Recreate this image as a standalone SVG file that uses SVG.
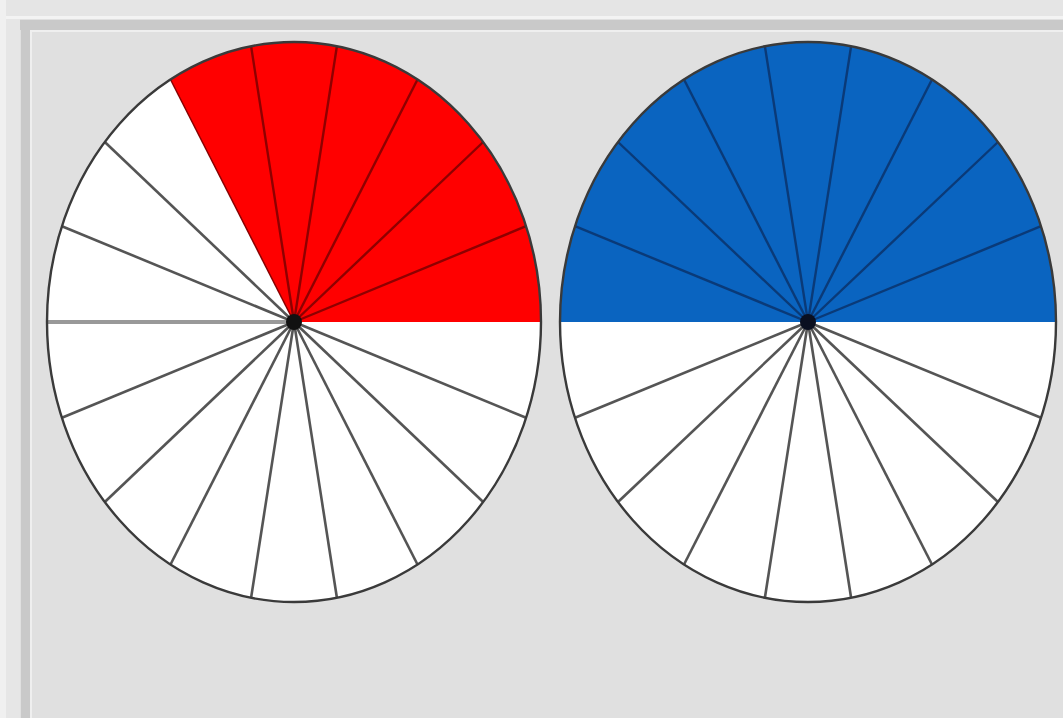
<svg xmlns="http://www.w3.org/2000/svg" width="1063" height="718" viewBox="0 0 1063 718">
<style>
.wl{stroke:#555555;stroke-width:2.6;fill:none}
.rl{stroke:#8e0000;stroke-width:2.4;fill:none}
.bl{stroke:#0a3a78;stroke-width:2.4;fill:none}
.out{fill:none;stroke:#3a3a3a;stroke-width:2.4}
</style>
<rect x="0" y="0" width="1063" height="718" fill="#e0e0e0"/>
<g id="frame">
<rect x="0" y="0" width="1063" height="17" fill="#e5e5e5"/>
<rect x="0" y="0" width="6" height="718" fill="#f0f0f0"/>
<rect x="6" y="17" width="14" height="701" fill="#e6e6e6"/>
<rect x="6" y="16" width="1057" height="3" fill="#f3f3f3"/>
<rect x="20" y="20" width="1043" height="10" fill="#c9c9c9"/>
<rect x="21" y="20" width="9" height="698" fill="#c9c9c9"/>
<rect x="30" y="30" width="1033" height="2" fill="#efefef"/>
<rect x="30" y="30" width="2" height="688" fill="#efefef"/>
</g>
<g id="left-pie">
<ellipse cx="294" cy="322" rx="247" ry="280" fill="#ffffff"/>
<path d="M294,322 L541,322 A247,280 0 0 0 170.5,79.5 Z" fill="#ff0000"/>
<g class="rl">
<line x1="294" y1="322" x2="526.1" y2="226.2"/>
<line x1="294" y1="322" x2="483.2" y2="142"/>
<line x1="294" y1="322" x2="417.5" y2="79.5"/>
<line x1="294" y1="322" x2="336.9" y2="46.3"/>
<line x1="294" y1="322" x2="251.1" y2="46.3"/>
</g>
<g class="wl">
<line x1="294" y1="322" x2="104.8" y2="142"/>
<line x1="294" y1="322" x2="61.9" y2="226.2"/>
<line x1="294" y1="322" x2="47" y2="322" stroke="#999" stroke-width="4"/>
<line x1="294" y1="322" x2="61.9" y2="417.8"/>
<line x1="294" y1="322" x2="104.8" y2="502"/>
<line x1="294" y1="322" x2="170.5" y2="564.5"/>
<line x1="294" y1="322" x2="251.1" y2="597.7"/>
<line x1="294" y1="322" x2="336.9" y2="597.7"/>
<line x1="294" y1="322" x2="417.5" y2="564.5"/>
<line x1="294" y1="322" x2="483.2" y2="502"/>
<line x1="294" y1="322" x2="526.1" y2="417.8"/>
</g>
<path d="M170.5,79.5 L294,322" stroke="#8a0000" stroke-width="1.5"/>
<ellipse class="out" cx="294" cy="322" rx="247" ry="280"/>
<circle cx="294" cy="322" r="8" fill="#111"/>
</g>
<g id="right-pie">
<ellipse cx="808" cy="322" rx="248" ry="280" fill="#ffffff"/>
<path d="M560,322 A248,280 0 0 1 1056,322 Z" fill="#0a64c0"/>
<g class="bl">
<line x1="808" y1="322" x2="1041" y2="226.2"/>
<line x1="808" y1="322" x2="998" y2="142"/>
<line x1="808" y1="322" x2="932" y2="79.5"/>
<line x1="808" y1="322" x2="851.1" y2="46.3"/>
<line x1="808" y1="322" x2="764.9" y2="46.3"/>
<line x1="808" y1="322" x2="684" y2="79.5"/>
<line x1="808" y1="322" x2="618" y2="142"/>
<line x1="808" y1="322" x2="575" y2="226.2"/>
</g>
<g class="wl">
<line x1="808" y1="322" x2="575" y2="417.8"/>
<line x1="808" y1="322" x2="618" y2="502"/>
<line x1="808" y1="322" x2="684" y2="564.5"/>
<line x1="808" y1="322" x2="764.9" y2="597.7"/>
<line x1="808" y1="322" x2="851.1" y2="597.7"/>
<line x1="808" y1="322" x2="932" y2="564.5"/>
<line x1="808" y1="322" x2="998" y2="502"/>
<line x1="808" y1="322" x2="1041" y2="417.8"/>
</g>
<ellipse class="out" cx="808" cy="322" rx="248" ry="280"/>
<circle cx="808" cy="322" r="8" fill="#0a0f20"/>
</g>
</svg>
